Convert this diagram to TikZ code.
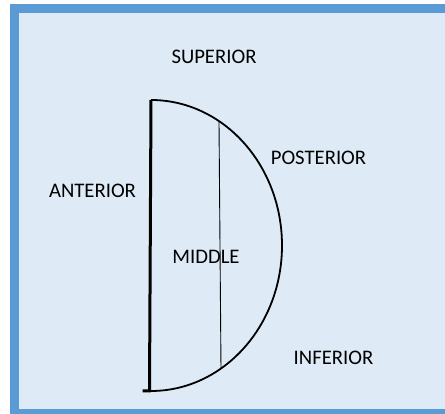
\documentclass[tikz,border=0pt]{standalone}
\usepackage{fontspec}
\setmainfont{Carlito}
\usetikzlibrary{positioning}
\definecolor{frameblue}{HTML}{5B9BD5}
\definecolor{paneblue}{HTML}{DEEBF7}

\begin{document}
\begin{tikzpicture}[x=1pt,y=1pt,
    label/.style={inner sep=0pt,font=\fontsize{20.7}{24}\selectfont}]
    \useasboundingbox (0,0) rectangle (445,414);
    \fill[frameblue] (10,0) rectangle (450,410);
    \fill[paneblue] (19,4.5) rectangle (450,401);
    % half disc
    \coordinate (top) at (151,314);
    \coordinate (bot) at (149.5,23);
    \draw[line width=3pt] (top) -- (bot) -- ++(-7,0);
    \draw[line width=1.8pt] (top) arc[start angle=90,end angle=-90,x radius=131,y radius=145.5];
    \coordinate (midtop) at (219,292);
    \coordinate (midbot) at (221,45);
    \draw[line width=0.9pt] (midtop) -- (midbot);
    % labels
    \node[label] (sup) at (214,357) {SUPERIOR};
    \node[label] (post) at (318.5,256.5) {POSTERIOR};
    \node[label] (ant) at (92.5,223) {ANTERIOR};
    \node[label] (mid) at (206,157) {MIDDLE};
    \node[label] (inf) at (333.5,56.5) {INFERIOR};
\end{tikzpicture}
\end{document}
